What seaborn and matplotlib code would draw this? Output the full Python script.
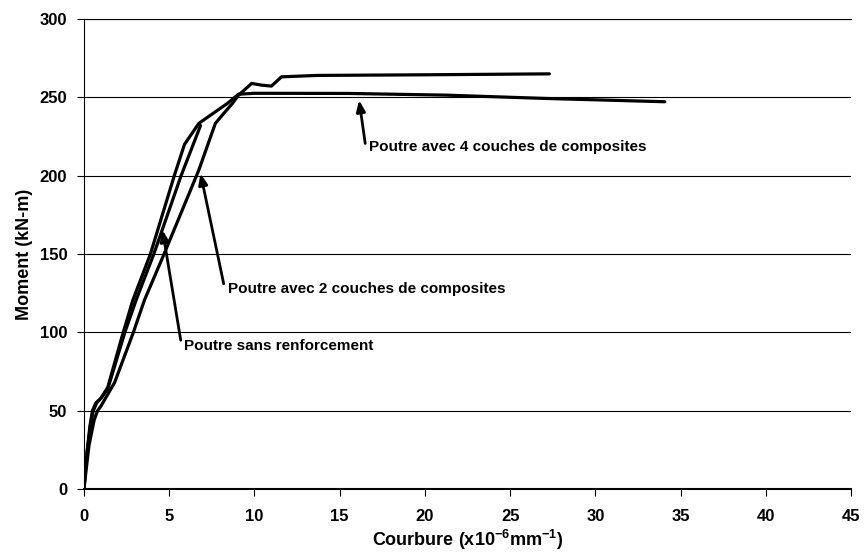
import pandas as pd
import seaborn as sns
import matplotlib.pyplot as plt

sns.set_theme(style="white")
plt.rcParams["font.family"] = ["Liberation Sans", "DejaVu Sans"]
plt.rcParams["font.weight"] = "bold"
plt.rcParams["mathtext.fontset"] = "custom"
plt.rcParams["mathtext.bf"] = "Liberation Sans:bold"
plt.rcParams["mathtext.rm"] = "Liberation Sans:bold"
plt.rcParams["text.color"] = "black"
plt.rcParams["axes.labelcolor"] = "black"
plt.rcParams["xtick.color"] = "black"
plt.rcParams["ytick.color"] = "black"

# curvature (x10^-6 mm^-1) vs moment (kN-m)
x_sans = [0, 0.2, 0.4, 0.55, 0.75, 1.0, 1.4, 2.4, 3.06, 4.1, 5.7, 6.84]
y_sans = [0, 25, 42, 50, 55, 58, 64, 100, 120.6, 150, 200, 232]

x_4c = [0, 0.15, 0.35, 0.5, 0.7, 1.0, 1.4, 2.2, 2.87, 3.9, 5.3, 5.9, 6.74,
        7.71, 8.4, 9.07, 10.0, 15.5, 21.3, 27.1, 34.07]
y_4c = [0, 20, 40, 50, 55, 58, 65, 96, 120.6, 150, 200, 220, 233.4,
        240.8, 246, 252, 252.6, 252.5, 251.4, 249.3, 247.2]

x_2c = [0, 0.3, 0.6, 0.8, 1.0, 1.32, 1.8, 2.9, 3.55, 4.7, 6.74, 7.71, 8.3,
        8.7, 9.07, 9.84, 10.42, 11.0, 11.59, 13.7, 20, 27.3]
y_2c = [0, 28, 44, 50, 53, 59, 68, 100, 120.6, 150, 203.6, 233.4, 241,
        246, 251.4, 258.9, 257.8, 257.2, 263.1, 264.0, 264.4, 265]

labels = ["Poutre avec 4 couches de composites",
          "Poutre avec 2 couches de composites",
          "Poutre sans renforcement"]
arrow_tips = [(16.14, 248.2), (6.84, 201.5), (4.61, 165.3)]
arrow_tails = [(16.5, 220.6), (8.2, 131), (5.68, 95)]
text_pos = [(16.7, 218.5), (8.43, 128), (5.87, 91.5)]

fig = plt.figure(figsize=(8.65, 5.59), dpi=100)
ax = fig.add_axes([0.097, 0.125, 0.887, 0.841])

for xs, ys in [(x_sans, y_sans), (x_4c, y_4c), (x_2c, y_2c)]:
    df = pd.DataFrame({"x": xs, "y": ys})
    sns.lineplot(data=df, x="x", y="y", sort=False, estimator=None,
                 color="black", linewidth=2.3, ax=ax)

for lab, tip, tail, pos in zip(labels, arrow_tips, arrow_tails, text_pos):
    ax.annotate("", xy=tip, xytext=tail,
                arrowprops=dict(arrowstyle="-|>,head_length=0.55,head_width=0.22",
                                color="black", lw=2, shrinkA=0, shrinkB=0))
    ax.text(pos[0], pos[1], lab, fontsize=11, fontweight="bold",
            color="black", ha="left", va="center")

ax.set_xlim(0, 45)
ax.set_ylim(0, 300)
ax.set_xticks(range(0, 46, 5))
ax.set_yticks(range(0, 301, 50))
ax.yaxis.grid(True, color="black", linewidth=0.8)
ax.xaxis.grid(False)
ax.set_axisbelow(True)

ax.spines["right"].set_visible(False)
for s in ["left", "bottom", "top"]:
    ax.spines[s].set_color("black")
    ax.spines[s].set_linewidth(0.8)
ax.spines["bottom"].set_linewidth(1.5)

ax.tick_params(axis="both", direction="out", length=5, width=0.8,
               color="black", labelcolor="black", labelsize=12,
               bottom=True, left=True)
ax.tick_params(axis="x", pad=9)
ax.tick_params(axis="y", pad=7)
for t in ax.get_xticklabels() + ax.get_yticklabels():
    t.set_fontweight("bold")

ax.set_xlabel(r"Courbure (x10$^{\mathbf{-6}}$mm$^{\mathbf{-1}}$)", fontsize=13,
              fontweight="bold", color="black", labelpad=3)
ax.set_ylabel("Moment (kN-m)", fontsize=13, fontweight="bold",
              color="black", labelpad=5)

fig.savefig("out.png", dpi=100)
